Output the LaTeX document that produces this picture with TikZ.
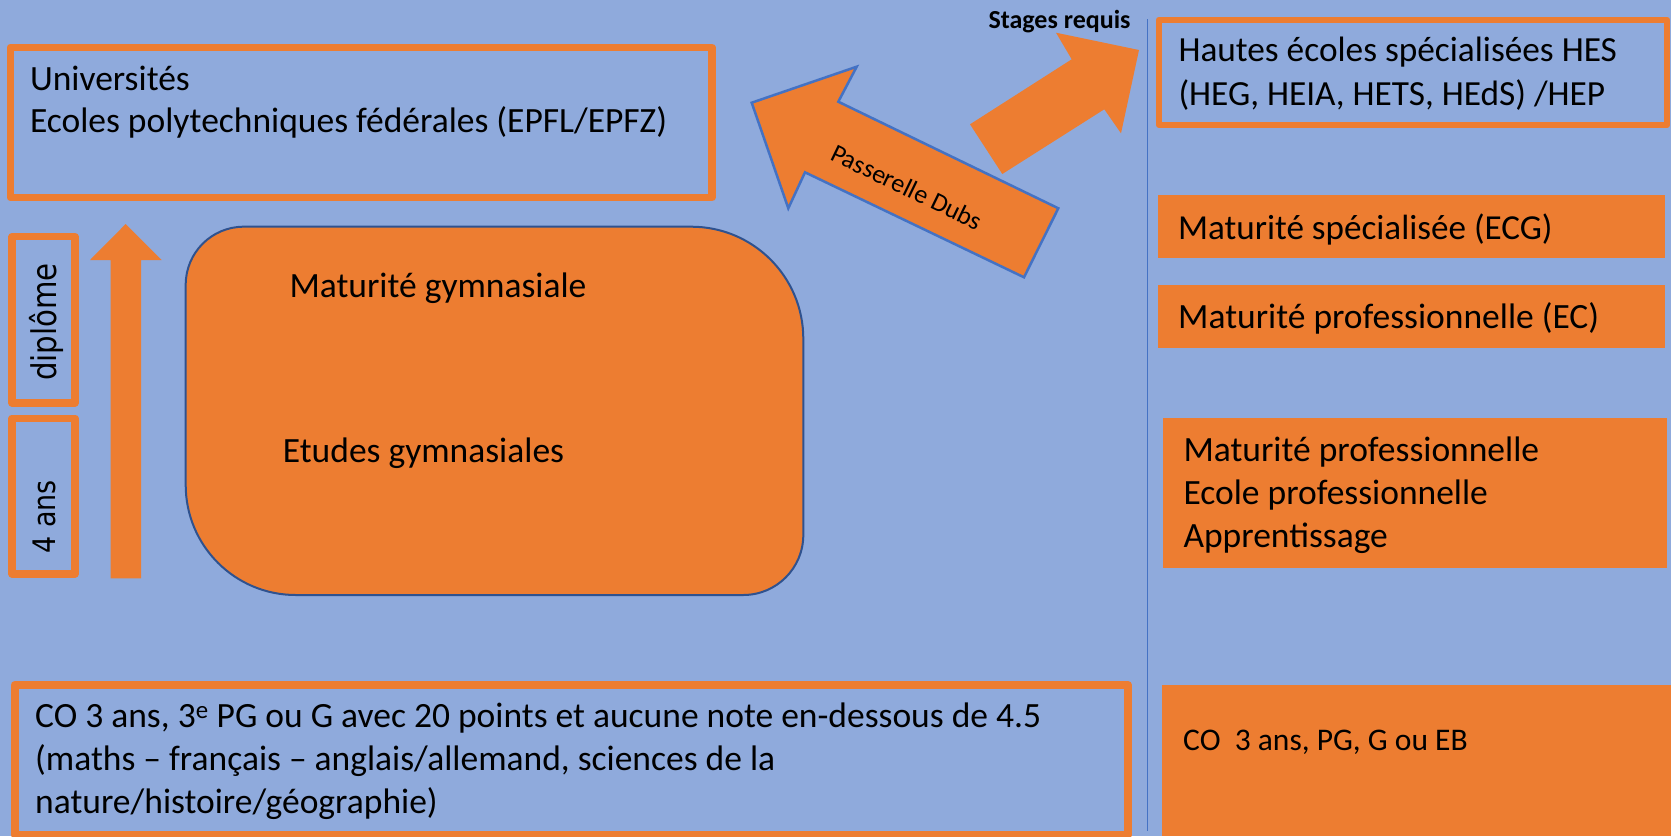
\documentclass[tikz,border=0pt]{standalone}
\usepackage{fontspec}
\setmainfont{Carlito}
\newfontfamily\roundfont{DejaVu Sans}
\definecolor{bgblue}{HTML}{8FAADC}
\definecolor{orng}{HTML}{ED7D31}
\definecolor{lineblue}{HTML}{4472C4}
\definecolor{darkblue}{HTML}{2F528F}
\newcommand\fsz[2]{\fontsize{#1}{#2}\selectfont}
\begin{document}
\begin{tikzpicture}[x=1pt,y=-1pt,
  framebox/.style={draw=orng, line width=#1, line join=round, inner sep=0pt, fill=bgblue},
  framebox/.default=7.5,
  fillbox/.style={fill=orng, inner sep=0pt, draw=none},
  txt/.style={inner sep=0pt, anchor=base west, font=\fsz{35.5}{43}},
]
\useasboundingbox (0,0) rectangle (1671,836);
\fill[bgblue] (0,0) rectangle (1671,836);

% left column frames
\node[framebox, minimum width=701.7, minimum height=150] (uni) at (361.15,122.5) {};
\node[framebox, minimum width=62.8, minimum height=166.1] (diplbox) at (43.6,319.75) {};
\node[framebox, minimum width=62.8, minimum height=155.5] (ansbox) at (43.6,496.05) {};
\node[framebox=8, minimum width=1113.5, minimum height=149.5] (cobox) at (571.25,759.75) {};

% vertical arrow
\fill[orng] (110.7,578.3) -- (110.7,260) -- (90,260) -- (125.7,224) -- (161.7,260) -- (141,260) -- (141,578.3) -- cycle;

% gymnase block
\filldraw[fill=orng, draw=darkblue, line width=2]
  (243.7,226.7) -- (691.3,226.7)
  .. controls (753.16,226.7) and (803.3,276.84) .. (803.3,338.7)
  -- (803.3,535) .. controls (803.3,568.14) and (776.44,595) .. (743.3,595)
  -- (295.7,595) .. controls (234.95,595) and (185.7,545.75) .. (185.7,485)
  -- (185.7,284.7) .. controls (185.7,252.67) and (211.67,226.7) .. (243.7,226.7) -- cycle;

% passerelle arrow
\filldraw[fill=orng, draw=lineblue, line width=2.5]
  (751.7,102.7) -- (856.7,66.7) -- (838.3,101.7) -- (1058.3,208.3) -- (1024,277.3) -- (805,172.3) -- (788.3,208.3) -- cycle;
% stages arrow
\fill[orng] (970,124.3) -- (1071.7,59.3) -- (1056,32.7) -- (1139,50) -- (1121,133.3) -- (1104.3,109.3) -- (1002.3,174) -- cycle;

% separator
\coordinate (ltop) at (1147.3,19);
\coordinate (lbot) at (1147.3,831);
\draw[lineblue, line width=1.5] (ltop) -- (lbot);

% right column
\node[framebox=6, minimum width=508, minimum height=105.3] (hes) at (1413,72.35) {};
\node[fillbox, minimum width=507, minimum height=63.3] (ecg) at (1411.5,226.65) {};
\node[fillbox, minimum width=507, minimum height=63.3] (ec) at (1411.5,316.65) {};
\node[fillbox, minimum width=504, minimum height=150] (mp) at (1415,493.3) {};
\node[fillbox, minimum width=509, minimum height=151] (cor) at (1416.5,760.5) {};

% texts
\node[txt, font=\fsz{35.5}{42.5}] (unitxt) at (29.8,90) {\vtop{\hbox{Universités}\hbox{Ecoles polytechniques fédérales (EPFL/EPFZ)}}};
\node[txt] (matg) at (289.3,297.3) {Maturité gymnasiale};
\node[txt] (etg) at (282.7,462.7) {Etudes gymnasiales};
\node[txt, font=\fsz{35.3}{43.3}] (hestxt) at (1178.3,61.7) {\vtop{\hbox{Hautes écoles spécialisées HES}\hbox{(HEG, HEIA, HETS, HEdS) /HEP}}};
\node[txt, font=\fsz{35.1}{42}] (ecgtxt) at (1178,239) {Maturité spécialisée (ECG)};
\node[txt] (ectxt) at (1178,328.3) {Maturité professionnelle (EC)};
\node[txt] (mptxt) at (1183.3,461) {\vtop{\hbox{Maturité professionnelle}\hbox{Ecole professionnelle}\hbox{Apprentissage}}};
\node[txt, font=\fsz{31.5}{37}] (cortxt) at (1183,750.7) {CO\ \ 3 ans, PG, G ou EB};
\node[txt, font=\fsz{35.5}{42.8}] (cotxt) at (35,727.7) {\vtop{\hbox{CO 3 ans, 3\textsuperscript{e} PG ou G avec 20 points et aucune note en-dessous de 4.5}\hbox{(maths – français – anglais/allemand, sciences de la}\hbox{nature/histoire/géographie)}}};
\node[inner sep=0pt, anchor=base west, font=\bfseries\fsz{26}{30}] (stages) at (988.3,28.3) {Stages requis};
\node[inner sep=0pt, rotate=-25.85, font=\fsz{26}{30}] (dubs) at (907,187) {Passerelle Dubs};
\node[inner sep=0pt, anchor=base, rotate=90, font=\roundfont\fsz{34}{40}] (dipl) at (56.7,322) {\scalebox{0.86}[1]{diplôme}};
\node[inner sep=0pt, anchor=base, rotate=90, font=\roundfont\fsz{31}{37}] (ans) at (55,516.7) {\scalebox{0.87}[1]{4 ans}};
\end{tikzpicture}
\end{document}
